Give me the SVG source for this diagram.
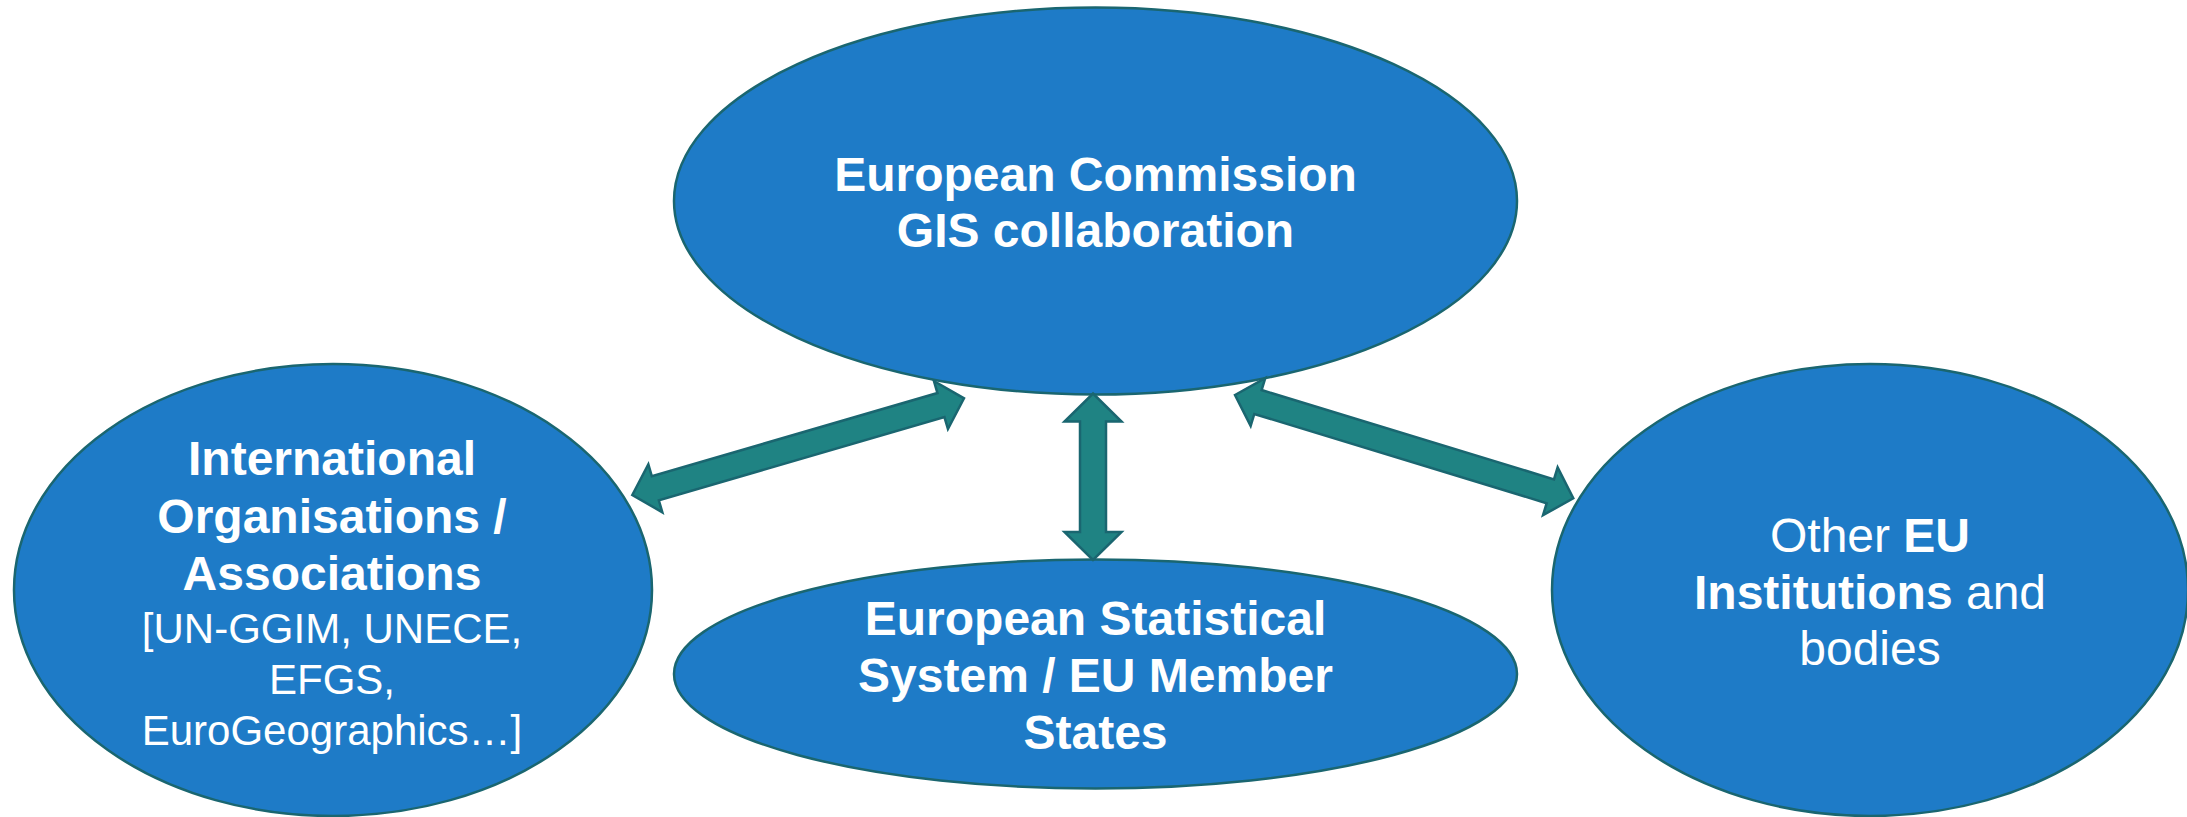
<svg xmlns="http://www.w3.org/2000/svg" width="2187" height="817" viewBox="0 0 2187 817">
  <style>
    .node { fill: #1E7BC7; stroke: #1A6670; stroke-width: 2.5; }
    .arrow { fill: #1F8383; stroke: #1A6670; stroke-width: 2.5; stroke-linejoin: miter; }
    text { font-family: "Liberation Sans", Arial, sans-serif; fill: #FFFFFF; text-anchor: middle; }
    .b { font-weight: bold; font-size: 48px; }
    .r { font-weight: normal; font-size: 42px; }
    .r48 { font-weight: normal; font-size: 48px; }
  </style>
  <rect x="0" y="0" width="2187" height="817" fill="#FFFFFF"/>

  <g id="ec">
    <ellipse class="node" cx="1095.5" cy="201" rx="421.5" ry="193.5"/>
    <text class="b" x="1095.5" y="191">European Commission</text>
    <text class="b" x="1095.5" y="247">GIS collaboration</text>
  </g>

  <g id="intl">
    <ellipse class="node" cx="333" cy="590" rx="319" ry="226"/>
    <text class="b" x="332" y="475">International</text>
    <text class="b" x="332" y="533">Organisations /</text>
    <text class="b" x="332" y="590">Associations</text>
    <text class="r" x="332" y="643">[UN-GGIM, UNECE,</text>
    <text class="r" x="332" y="694">EFGS,</text>
    <text class="r" x="332" y="745">EuroGeographics…]</text>
  </g>

  <g id="ess">
    <ellipse class="node" cx="1095.5" cy="674" rx="421.5" ry="114.5"/>
    <text class="b" x="1095.5" y="635">European Statistical</text>
    <text class="b" x="1095.5" y="692">System / EU Member</text>
    <text class="b" x="1095.5" y="749">States</text>
  </g>

  <g id="euinst">
    <ellipse class="node" cx="1870" cy="590" rx="318" ry="226"/>
    <text class="r48" x="1870" y="552">Other <tspan font-weight="bold">EU</tspan></text>
    <text class="r48" x="1870" y="609"><tspan font-weight="bold">Institutions</tspan> and</text>
    <text class="r48" x="1870" y="665">bodies</text>
  </g>

  <g id="connectors">
    <path class="arrow" transform="translate(632.3,495) rotate(-16.25)" d="M0,0 L24,-25 L24,-12.5 L321.5,-12.5 L321.5,-25 L345.5,0 L321.5,25 L321.5,12.5 L24,12.5 L24,25 Z"/>
    <path class="arrow" transform="translate(1093,393.5) rotate(90)" d="M0,0 L28,-28.5 L28,-13 L138.5,-13 L138.5,-28.5 L166.5,0 L138.5,28.5 L138.5,13 L28,13 L28,28.5 Z"/>
    <path class="arrow" transform="translate(1235,395) rotate(16.98)" d="M0,0 L24,-25 L24,-12.5 L329.7,-12.5 L329.7,-25 L353.7,0 L329.7,25 L329.7,12.5 L24,12.5 L24,25 Z"/>
  </g>
</svg>
